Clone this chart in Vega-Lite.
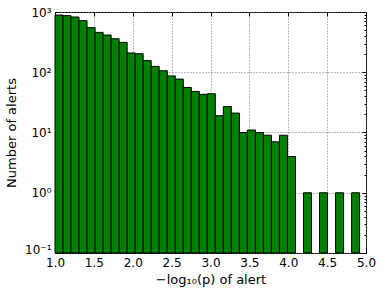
{
  "$schema": "https://vega.github.io/schema/vega-lite/v6.json",
  "width": 311,
  "height": 241,
  "autosize": "none",
  "padding": {"left": 55, "top": 12, "right": 15, "bottom": 41},
  "config": {
    "font": "DejaVu Sans",
    "view": {"stroke": "black", "strokeWidth": 1},
    "axis": {
      "labelFont": "DejaVu Sans",
      "titleFont": "DejaVu Sans",
      "labelFontSize": 12,
      "titleFontSize": 13,
      "labelColor": "black",
      "titleColor": "black",
      "titleFontWeight": "normal",
      "domainColor": "black",
      "tickColor": "black",
      "gridColor": "#777777",
      "gridDash": [1, 2],
      "gridWidth": 1,
      "zindex": 1
    }
  },
  "data": {
    "values": [
      {"start": 1.000, "end": 1.103, "count": 890},
      {"start": 1.103, "end": 1.206, "count": 870},
      {"start": 1.206, "end": 1.309, "count": 826},
      {"start": 1.309, "end": 1.412, "count": 718},
      {"start": 1.412, "end": 1.516, "count": 550},
      {"start": 1.516, "end": 1.619, "count": 459},
      {"start": 1.619, "end": 1.722, "count": 415},
      {"start": 1.722, "end": 1.825, "count": 360},
      {"start": 1.825, "end": 1.928, "count": 313},
      {"start": 1.928, "end": 2.031, "count": 209},
      {"start": 2.031, "end": 2.134, "count": 203},
      {"start": 2.134, "end": 2.237, "count": 156},
      {"start": 2.237, "end": 2.340, "count": 125},
      {"start": 2.340, "end": 2.444, "count": 106},
      {"start": 2.444, "end": 2.547, "count": 87},
      {"start": 2.547, "end": 2.650, "count": 77},
      {"start": 2.650, "end": 2.753, "count": 56},
      {"start": 2.753, "end": 2.856, "count": 48},
      {"start": 2.856, "end": 2.959, "count": 43},
      {"start": 2.959, "end": 3.062, "count": 44},
      {"start": 3.062, "end": 3.165, "count": 19},
      {"start": 3.165, "end": 3.268, "count": 27},
      {"start": 3.268, "end": 3.372, "count": 21},
      {"start": 3.372, "end": 3.475, "count": 10},
      {"start": 3.475, "end": 3.578, "count": 11},
      {"start": 3.578, "end": 3.681, "count": 10},
      {"start": 3.681, "end": 3.784, "count": 9},
      {"start": 3.784, "end": 3.887, "count": 7},
      {"start": 3.887, "end": 3.990, "count": 9},
      {"start": 3.990, "end": 4.093, "count": 4},
      {"start": 4.196, "end": 4.299, "count": 1},
      {"start": 4.402, "end": 4.505, "count": 1},
      {"start": 4.609, "end": 4.712, "count": 1},
      {"start": 4.815, "end": 4.918, "count": 1}
    ]
  },
  "layer": [
    {
      "mark": {"type": "bar", "color": "#008000", "stroke": "black", "strokeWidth": 1},
      "encoding": {
        "x": {
          "field": "start",
          "type": "quantitative",
          "scale": {"domain": [1, 5], "nice": false, "zero": false},
          "axis": {
            "title": "−log₁₀(p) of alert",
            "values": [1, 1.5, 2, 2.5, 3, 3.5, 4, 4.5, 5],
            "format": ".1f",
            "tickSize": -4,
            "labelPadding": 8,
            "titlePadding": 5,
            "domain": false,
            "labelFlush": false
          }
        },
        "x2": {"field": "end"},
        "y": {
          "field": "count",
          "type": "quantitative",
          "scale": {"type": "log", "domain": [0.1, 1000], "nice": false},
          "axis": {
            "title": "Number of alerts",
            "values": [0.1, 0.2, 0.3, 0.4, 0.5, 0.6, 0.7, 0.8, 0.9, 1, 2, 3, 4, 5, 6, 7, 8, 9, 10, 20, 30, 40, 50, 60, 70, 80, 90, 100, 200, 300, 400, 500, 600, 700, 800, 900, 1000],
            "labelExpr": "abs(log(datum.value)/LN10 - round(log(datum.value)/LN10)) > 0.01 ? '' : datum.value < 0.5 ? '10⁻¹' : datum.value < 5 ? '10⁰' : datum.value < 50 ? '10¹' : datum.value < 500 ? '10²' : '10³'",
            "labelOffset": {"condition": {"test": "datum.value < 0.15", "value": -4}, "value": 0},
            "tickSize": {"condition": {"test": "abs(log(datum.value)/LN10 - round(log(datum.value)/LN10)) > 0.01", "value": -2}, "value": -4},
            "gridOpacity": {"condition": {"test": "abs(log(datum.value)/LN10 - round(log(datum.value)/LN10)) > 0.01", "value": 0}, "value": 1},
            "labelPadding": 8,
            "titlePadding": 6,
            "domain": false
          }
        },
        "y2": {"datum": 0.1}
      }
    },
    {
      "mark": {"type": "bar", "opacity": 0},
      "encoding": {
        "x": {
          "field": "start",
          "type": "quantitative",
          "scale": {"domain": [1, 5], "nice": false, "zero": false},
          "axis": {
            "orient": "top",
            "title": null,
            "labels": false,
            "values": [1, 1.5, 2, 2.5, 3, 3.5, 4, 4.5, 5],
            "tickSize": -4,
            "domain": false,
            "grid": false
          }
        },
        "x2": {"field": "end"},
        "y": {
          "field": "count",
          "type": "quantitative",
          "scale": {"type": "log", "domain": [0.1, 1000], "nice": false},
          "axis": {
            "orient": "right",
            "title": null,
            "labels": false,
            "values": [0.1, 0.2, 0.3, 0.4, 0.5, 0.6, 0.7, 0.8, 0.9, 1, 2, 3, 4, 5, 6, 7, 8, 9, 10, 20, 30, 40, 50, 60, 70, 80, 90, 100, 200, 300, 400, 500, 600, 700, 800, 900, 1000],
            "tickSize": {"condition": {"test": "abs(log(datum.value)/LN10 - round(log(datum.value)/LN10)) > 0.01", "value": -2}, "value": -4},
            "domain": false,
            "grid": false
          }
        },
        "y2": {"datum": 0.1}
      }
    }
  ],
  "resolve": {"axis": {"x": "independent", "y": "independent"}}
}
